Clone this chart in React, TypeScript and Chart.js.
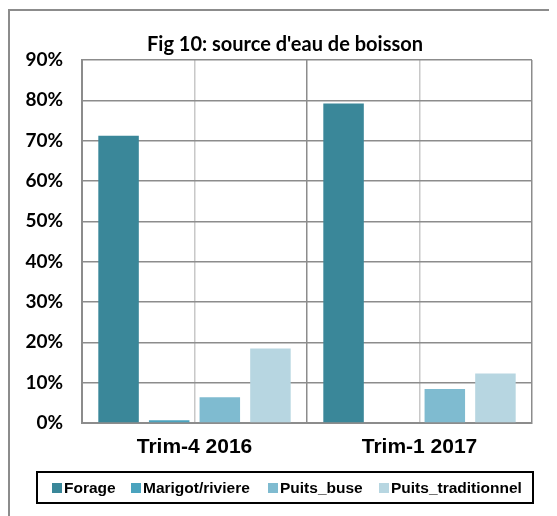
import React, { useEffect, useRef } from "react";
import { Chart, registerables } from "chart.js";

Chart.register(...registerables);

const categories = ["Trim-4 2016", "Trim-1 2017"];
const seriesNames = ["Forage", "Marigot/riviere", "Puits_buse", "Puits_traditionnel"];
const forage = [71.2, 79.2];
const marigot = [0.7, 0];
const puitsBuse = [6.4, 8.4];
const puitsTraditionnel = [18.5, 12.3];
const colors = ["#3A8799", "#4BA3BE", "#7FBBD0", "#B7D6E1"];
const yTicks = [0, 10, 20, 30, 40, 50, 60, 70, 80, 90];
const title = "Fig 10: source d'eau de boisson";

const legendLefts = [44, 123, 260, 371];

const titlePlugin = {
  id: "fixedTitle",
  afterDraw(chart: any) {
    const ctx = chart.ctx;
    ctx.save();
    ctx.font = "bold 20px Lato, 'Open Sans', sans-serif";
    ctx.fillStyle = "#000";
    ctx.textAlign = "center";
    ctx.textBaseline = "middle";
    ctx.fillText(title, 277, 37);
    ctx.restore();
  },
};

export default function App() {
  const ref = useRef<HTMLCanvasElement | null>(null);
  useEffect(() => {
    if (!ref.current) return;
    const values = [forage, marigot, puitsBuse, puitsTraditionnel];
    const chart = new Chart(ref.current, {
      type: "bar",
      data: {
        labels: categories,
        datasets: seriesNames.map((n, i) => ({
          label: n,
          data: values[i],
          backgroundColor: colors[i],
          borderWidth: 0,
          categoryPercentage: 0.9,
          barPercentage: 0.8,
        })),
      },
      plugins: [titlePlugin],
      options: {
        animation: false,
        responsive: false,
        maintainAspectRatio: false,
        layout: { padding: { left: 0, right: 25, top: 52, bottom: 43 } },
        plugins: {
          legend: { display: false },
          tooltip: { enabled: false },
          title: { display: false },
        },
        scales: {
          x: {
            type: "category",
            offset: true,
            grid: { offset: true, color: "#8c8c8c", lineWidth: 1.5, drawTicks: false },
            border: { display: true, color: "#8c8c8c", width: 2 },
            ticks: {
              color: "#000",
              padding: 12,
              font: { family: "'Liberation Sans', Arial, sans-serif", size: 21, weight: "bold" },
            },
            afterFit: (s: any) => { s.height = 50; },
          },
          x2: {
            type: "category",
            position: "bottom",
            offset: true,
            grid: { offset: false, color: "#c8c8c8", lineWidth: 1.5, drawTicks: false },
            border: { display: false },
            ticks: { display: false },
            afterFit: (s: any) => { s.height = 0; },
          },
          y: {
            min: 0,
            max: 90,
            afterBuildTicks: (s: any) => { s.ticks = yTicks.map((v) => ({ value: v })); },
            grid: { color: "#8c8c8c", lineWidth: 1.5, drawTicks: false },
            border: { display: true, color: "#8c8c8c", width: 2 },
            ticks: {
              color: "#000",
              padding: 19,
              font: { family: "Lato, 'Open Sans', sans-serif", size: 19, weight: "bold" },
              callback: (v: any) => v + "%",
            },
            afterFit: (s: any) => { s.width = 74; },
          },
        },
      },
    });
    return () => chart.destroy();
  }, []);

  return (
    <div style={{ position: "relative", width: 549, height: 508, overflow: "hidden", background: "#fff" }}>
      <div
        style={{
          position: "absolute",
          left: 0,
          top: 1,
          width: 600,
          height: 600,
          borderLeft: "2px solid #8c8c8c",
          borderTop: "2px solid #8c8c8c",
          boxSizing: "border-box",
        }}
      />
      <canvas ref={ref} width={549} height={508} style={{ position: "absolute", left: 0, top: 0 }} />
      <div
        style={{
          position: "absolute",
          left: 28,
          top: 463,
          width: 498,
          height: 33,
          border: "2px solid #000",
          boxSizing: "border-box",
          fontFamily: "'Liberation Sans', Arial, sans-serif",
          fontWeight: "bold",
          fontSize: 15.5,
        }}
      >
        {seriesNames.map((n, i) => (
          <div
            key={n}
            style={{
              position: "absolute",
              left: legendLefts[i] - 30,
              top: 6,
              display: "flex",
              alignItems: "center",
              whiteSpace: "nowrap",
              lineHeight: "18px",
            }}
          >
            <span style={{ display: "inline-block", width: 10, height: 10, background: colors[i], marginRight: 2 }} />
            <span>{n}</span>
          </div>
        ))}
      </div>
    </div>
  );
}
